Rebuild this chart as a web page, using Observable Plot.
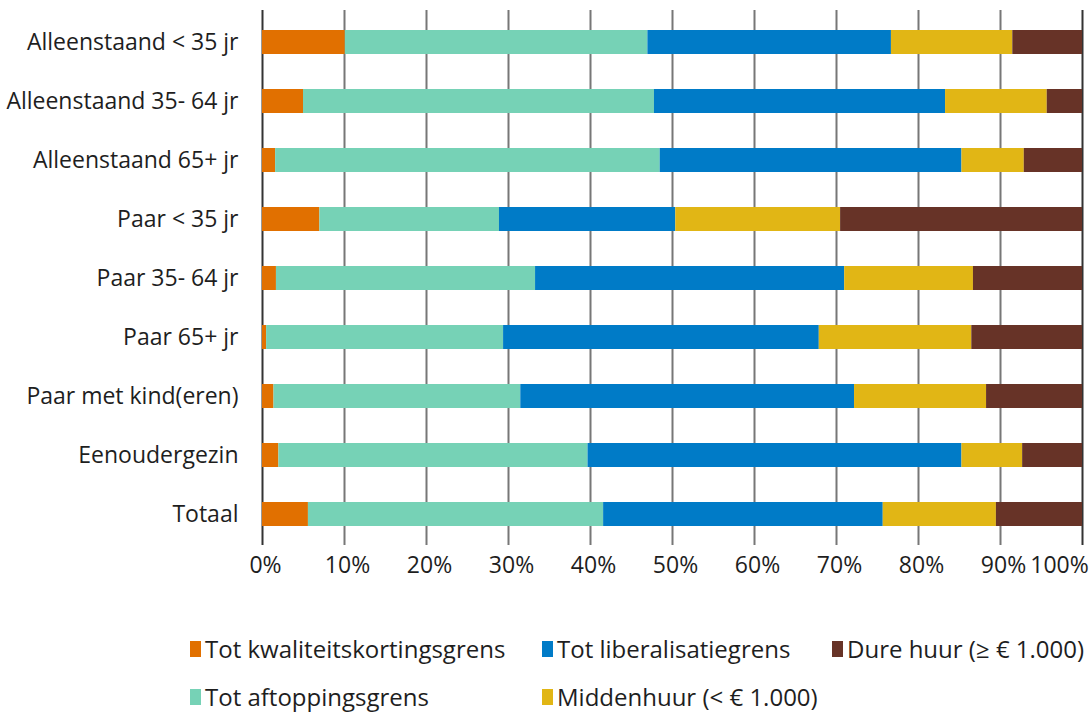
<!DOCTYPE html>
<html>
<head>
<meta charset="utf-8">
<script src="https://cdn.jsdelivr.net/npm/d3@7"></script>
<script src="https://cdn.jsdelivr.net/npm/@observablehq/plot@0.6"></script>
<style>
  html, body { margin: 0; padding: 0; background: #fff; }
  #wrap { position: relative; width: 1089px; height: 714px; font-family: "Open Sans", sans-serif; color: #1e1e1e; overflow: hidden; }
  .item { position: absolute; display: flex; align-items: center; font-size: 24px; line-height: 28px; white-space: nowrap; }
  .sw { width: 11px; height: 16px; margin-right: 4px; display: inline-block; }
</style>
</head>
<body>
<div id="wrap"></div>
<script>
const categories = ["Alleenstaand < 35 jr", "Alleenstaand 35- 64 jr", "Alleenstaand 65+ jr", "Paar < 35 jr", "Paar 35- 64 jr", "Paar 65+ jr", "Paar met kind(eren)", "Eenoudergezin", "Totaal"];
const series = ["Tot kwaliteitskortingsgrens", "Tot aftoppingsgrens", "Tot liberalisatiegrens", "Middenhuur (< € 1.000)", "Dure huur (≥ € 1.000)"];
const colors = ["#E17000", "#76D2B6", "#007BC7", "#E1B615", "#673327"];
const kwaliteit     = [10.1, 5.0, 1.6, 7.0, 1.7, 0.5, 1.4, 2.0, 5.6];
const aftopping     = [36.9, 42.8, 46.9, 21.9, 31.6, 28.9, 30.1, 37.7, 36.0];
const liberalisatie = [29.7, 35.5, 36.8, 21.5, 37.7, 38.5, 40.7, 45.6, 34.1];
const midden        = [14.8, 12.4, 7.6, 20.1, 15.7, 18.6, 16.1, 7.4, 13.8];
const duur          = [8.5, 4.3, 7.1, 29.5, 13.3, 13.5, 11.7, 7.3, 10.5];
const xTicks = [0, 10, 20, 30, 40, 50, 60, 70, 80, 90, 100];

const seriesValues = [kwaliteit, aftopping, liberalisatie, midden, duur];
const data = [];
categories.forEach((c, i) => {
  series.forEach((s, j) => {
    data.push({category: c, series: s, value: seriesValues[j][i]});
  });
});

const chart = Plot.plot({
  width: 1089,
  height: 600,
  marginLeft: 262,
  marginRight: 7,
  marginTop: 10,
  marginBottom: 55,
  style: {fontFamily: "'Open Sans', sans-serif", fontSize: "23px", color: "#1e1e1e", background: "transparent", overflow: "visible"},
  x: {domain: [0, 100], label: null},
  y: {domain: categories, range: [15.9, 539.8], paddingInner: 0.6, paddingOuter: 0.2, label: null},
  color: {domain: series, range: colors},
  marks: [
    Plot.ruleX(xTicks.filter(d => d !== 0 && d !== 100), {stroke: "#777", strokeWidth: 2}),
    Plot.ruleX(xTicks.filter(d => d === 0 || d === 100), {stroke: "#333", strokeWidth: 2}),
    Plot.barX(data, {x: "value", y: "category", fill: "series"}),
    Plot.axisX({ticks: xTicks.filter(d => d !== 100), tickSize: 0, tickPadding: 11, dx: 3, tickFormat: d => d + "%", fill: "#1e1e1e", label: null, fontSize: 23}),
    Plot.axisX({ticks: [100], tickSize: 0, tickPadding: 11, dx: -23, tickFormat: d => d + "%", fill: "#1e1e1e", label: null, fontSize: 23}),
    Plot.axisY({tickSize: 0, tickPadding: 24, fill: "#1e1e1e", label: null, fontSize: 23})
  ]
});
const wrap = document.getElementById("wrap");
wrap.appendChild(chart);

const legendPos = [
  {left: 190, top: 649},
  {left: 190, top: 697},
  {left: 542, top: 649},
  {left: 542, top: 697},
  {left: 832, top: 649}
];
series.forEach((s, i) => {
  const it = document.createElement("div");
  it.className = "item";
  it.style.left = legendPos[i].left + "px";
  it.style.top = (legendPos[i].top - 14) + "px";
  it.style.height = "28px";
  const sw = document.createElement("span");
  sw.className = "sw";
  sw.style.background = colors[i];
  const tx = document.createElement("span");
  tx.textContent = s;
  it.appendChild(sw);
  it.appendChild(tx);
  wrap.appendChild(it);
});
</script>
</body>
</html>
